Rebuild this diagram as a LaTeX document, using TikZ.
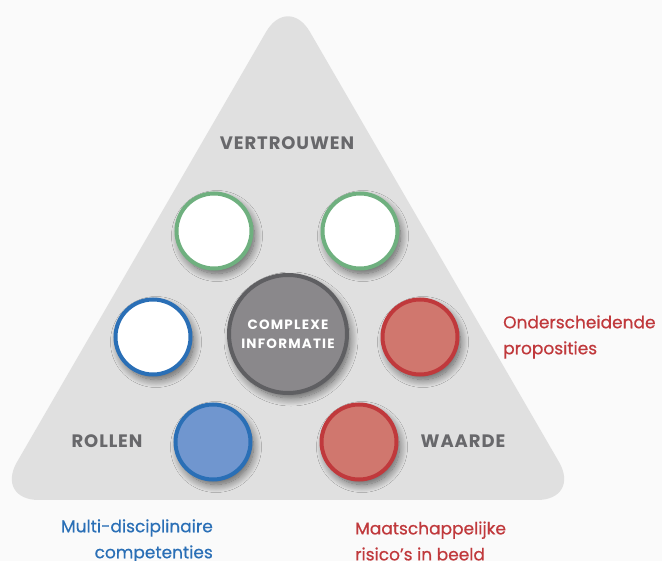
\documentclass[tikz,border=0pt]{standalone}
\usepackage{fontspec}
\setmainfont{Poppins}
\usetikzlibrary{shadows.blur}
\definecolor{achter}{HTML}{FAFAFA}
\definecolor{driehoek}{HTML}{E0E0E0}
\definecolor{labelgrijs}{HTML}{68686B}
\definecolor{groen}{HTML}{6FB07F}
\definecolor{blauw}{HTML}{2A6FB6}
\definecolor{blauwvul}{HTML}{7096CF}
\definecolor{rood}{HTML}{C0393C}
\definecolor{roodvul}{HTML}{D0776E}
\definecolor{grijsvul}{HTML}{8A888B}
\definecolor{grijsrand}{HTML}{5F5F62}
\begin{document}
\begin{tikzpicture}[x=1pt,y=-1pt,
    bol/.style={circle, minimum size=75pt, line width=4pt, inner sep=0pt,
      blur shadow={shadow xshift=3pt, shadow yshift=-5pt, shadow blur steps=14,
        shadow blur radius=8pt, shadow opacity=60}},
    hoek/.style={font=\bfseries\fontsize{18}{20}\selectfont\addfontfeature{LetterSpace=5},
      text=labelgrijs},
    uitleg/.style={font=\fontsize{17}{26}\selectfont\addfontfeature{FakeBold=0.6},
      inner sep=0pt}]
    %driehoek met 7 bollen en de labels eromheen
    \useasboundingbox[fill=achter] (0,0) rectangle (662,561);
    \fill[driehoek, rounded corners=44pt] (288,-6) -- (581,500) -- (-5,500) -- cycle;

    \node[bol, draw=groen, fill=white] (1) at (214,231) {};
    \node[bol, draw=groen, fill=white] (2) at (360,231) {};
    \node[bol, draw=blauw, fill=white] (3) at (153,337) {};
    \node[bol, draw=rood, fill=roodvul] (4) at (420,337) {};
    \node[bol, draw=blauw, fill=blauwvul] (5) at (213,442) {};
    \node[bol, draw=rood, fill=roodvul] (6) at (359,442) {};
    \node[bol, minimum size=118pt, draw=grijsrand, fill=grijsvul, text=white, align=center,
      font=\bfseries\fontsize{13.5}{18.5}\selectfont\addfontfeature{LetterSpace=9}]
      (0) at (288,334) {COMPLEXE\\INFORMATIE};

    \node[hoek] (v) at (287,143) {VERTROUWEN};
    \node[hoek] (r) at (107,441) {ROLLEN};
    \node[hoek] (w) at (463,441) {WAARDE};

    \node[uitleg, text=rood, anchor=west, align=left] (o) at (503,337) {Onderscheidende\\proposities};
    \node[uitleg, text=blauw, anchor=east, align=right] (m) at (213,541) {Multi-disciplinaire\\competenties};
    \node[uitleg, text=rood, anchor=west, align=left] (s) at (355,541) {Maatschappelijke\\risico’s in beeld};
\end{tikzpicture}
\end{document}
